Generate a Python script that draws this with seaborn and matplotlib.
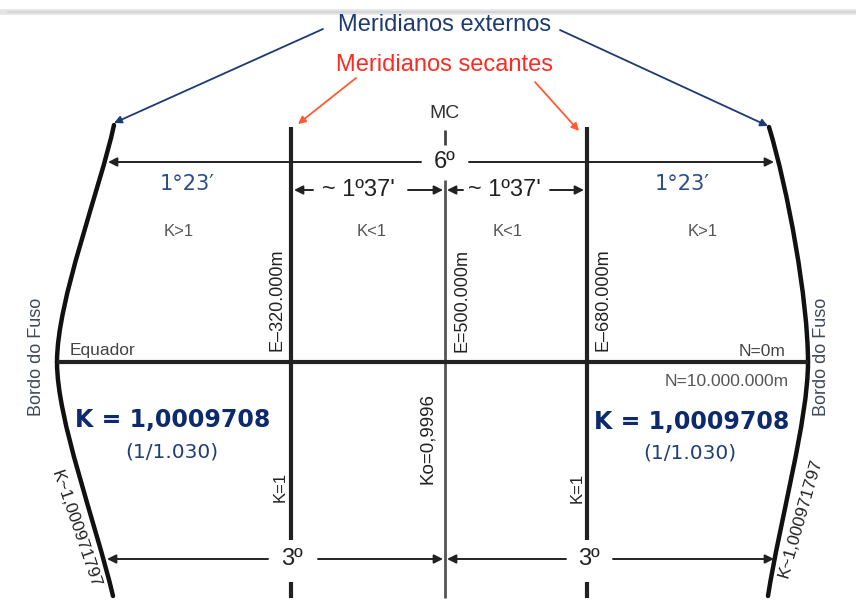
import matplotlib
matplotlib.use("Agg")
import matplotlib.pyplot as plt
from matplotlib.path import Path
from matplotlib.patches import PathPatch
import pandas as pd
import seaborn as sns

# --- texts and values of the UTM zone sketch ---
TITLE_EXT = "Meridianos externos"
TITLE_SEC = "Meridianos secantes"
CENTRAL = "MC"
ZONE_WIDTH = "6º"
HALF_WIDTH = "3º"
SECANT_OFFSET = "~ 1º37'"
OUTER_OFFSET = "1°23′"
ZONE_K = ["K>1", "K<1", "K<1", "K>1"]
EASTINGS = ["E–320.000m", "E=500.000m", "E–680.000m"]
K_SECANT = "K=1"
K_CENTRAL = "Ko=0,9996"
K_EDGE = "K = 1,0009708"
K_EDGE_RATIO = "(1/1.030)"
K_EDGE_EXACT = "K~1,000971797"
NORTHINGS = ["N=0m", "N=10.000.000m"]
EQUATOR = "Equador"
EDGE = "Bordo do Fuso"

# --- layout (pixel space of the sketch) ---
W, H = 856, 614
X_SEC = [291, 587]
X_MC = 445
Y_EQ = 362
Y_TOP, Y_BOT = 127, 598
Y_6, Y_137, Y_3 = 162, 190, 559
ZONE_KX = [179, 372, 508, 703]

NAVY = "#1d3a72"
RED = "#ff2a22"
ORANGE = "#ff5a32"
DARK = "#222222"
GREY = "#444444"

sns.set_theme(style="white")
plt.rcParams['font.family'] = ['Liberation Sans', 'DejaVu Sans']

fig = plt.figure(figsize=(W / 100, H / 100), dpi=100)
ax = fig.add_axes([0, 0, 1, 1])
ax.set_xlim(0, W)
ax.set_ylim(H, 0)
ax.axis('off')

# faint band at the top of the slide
ax.plot([0, W], [12, 12], color="#e4e4e4", lw=4, solid_capstyle='butt')
ax.plot([8, W], [12, 12], color="#d2d2d2", lw=1.2)


def seg(xs, ys, color=DARK, lw=3.0):
    df = pd.DataFrame({"x": xs, "y": ys})
    sns.lineplot(data=df, x="x", y="y", sort=False, estimator=None,
                 color=color, lw=lw, ax=ax, solid_capstyle='butt')


def arrow(start, tip, color=DARK, lw=1.4, ms=13):
    ax.annotate("", xy=tip, xytext=start,
                arrowprops=dict(arrowstyle="-|>", color=color, lw=lw,
                                mutation_scale=ms, shrinkA=0, shrinkB=0))


# secant meridians (broken at the 3º label) and central meridian
for x in X_SEC:
    seg([x, x], [Y_TOP, 540])
    seg([x, x], [582, Y_BOT])
seg([X_MC, X_MC], [130, 145], color=GREY, lw=2)
seg([X_MC, X_MC], [180, Y_BOT], color="#555555", lw=2)

# equator
seg([57, 808], [Y_EQ, Y_EQ])

# zone edges (curved meridians)
edges = [
    [(114, 125), (100, 190), (57, 300), (57, Y_EQ)],
    [(57, Y_EQ), (57, 420), (95, 520), (113, 596)],
    [(769, 127), (788, 190), (808, 300), (808, Y_EQ)],
    [(808, Y_EQ), (808, 420), (780, 520), (768, 596)],
]
for pts in edges:
    p = Path(pts, [Path.MOVETO, Path.CURVE4, Path.CURVE4, Path.CURVE4])
    ax.add_patch(PathPatch(p, fill=False, lw=3.2, edgecolor="#111111",
                           capstyle='round'))

# pointers from the titles
arrow((323, 29), (114, 123), color=NAVY, lw=1.3, ms=11)
arrow((560, 30), (768, 126), color=NAVY, lw=1.3, ms=11)
arrow((356, 78), (298, 124), color=ORANGE, lw=1.3, ms=11)
arrow((535, 82), (579, 131), color=ORANGE, lw=1.3, ms=11)

# dimension lines
arrow((421, Y_6), (108, Y_6))
arrow((469, Y_6), (774, Y_6))
arrow((313, Y_137), (294, Y_137))
arrow((408, Y_137), (443, Y_137))
arrow((463, Y_137), (447, Y_137))
arrow((550, Y_137), (584, Y_137))
arrow((268, Y_3), (107, Y_3))
arrow((318, Y_3), (443, Y_3))
arrow((566, Y_3), (447, Y_3))
arrow((613, Y_3), (774, Y_3))

# titles
ax.text(X_MC, 25, TITLE_EXT, color=NAVY, fontsize=17, ha='center', va='center')
ax.text(X_MC, 65, TITLE_SEC, color=RED, fontsize=17, ha='center', va='center')
ax.text(X_MC, 114, CENTRAL, color="#333333", fontsize=14, ha='center', va='center')

# dimension labels
ax.text(X_MC, Y_6, ZONE_WIDTH, color=DARK, fontsize=17, ha='center', va='center')
ax.text(358, Y_137, SECANT_OFFSET, color=DARK, fontsize=17, ha='center', va='center')
ax.text(504, Y_137, SECANT_OFFSET, color=DARK, fontsize=17, ha='center', va='center')
ax.text(292, Y_3, HALF_WIDTH, color=DARK, fontsize=17, ha='center', va='center')
ax.text(589, Y_3, HALF_WIDTH, color=DARK, fontsize=17, ha='center', va='center')
for x in [187, 682]:
    ax.text(x, 184, OUTER_OFFSET, color="#2b4c8c", fontsize=15, ha='center',
            va='center', family=['DejaVu Sans'])

# scale factor zones
for x, lab in zip(ZONE_KX, ZONE_K):
    ax.text(x, 231, lab, color="#555555", fontsize=12, ha='center', va='center')

# eastings
for x, lab in zip([277, 462, 603], EASTINGS):
    ax.text(x, 300, lab, color=DARK, fontsize=13, rotation=90,
            ha='center', va='center')

ax.text(70, 351, EQUATOR, color=GREY, fontsize=12.5, ha='left', va='center')
ax.text(786, 351, NORTHINGS[0], color=GREY, fontsize=12.5, ha='right', va='center')
ax.text(789, 381, NORTHINGS[1], color="#555555", fontsize=12.5, ha='right', va='center')

for x in [37, 822]:
    ax.text(x, 357, EDGE, color="#3d4a58", fontsize=13, rotation=90,
            ha='center', va='center')

# edge scale factor
for x, y in [(173, 420), (692, 422)]:
    ax.text(x, y, K_EDGE, color="#0c2a6c", fontsize=17, fontweight='bold',
            ha='center', va='center', family=['DejaVu Sans'])
for x, y in [(172, 452), (690, 453)]:
    ax.text(x, y, K_EDGE_RATIO, color="#1f3f7a", fontsize=14.5,
            ha='center', va='center', family=['DejaVu Sans'])

for x, y in [(280, 487), (577, 488)]:
    ax.text(x, y, K_SECANT, color=DARK, fontsize=12, rotation=90,
            ha='center', va='center')
ax.text(428, 439, K_CENTRAL, color=DARK, fontsize=13.5, rotation=90,
        ha='center', va='center')

ax.text(76, 529, K_EDGE_EXACT, color=DARK, fontsize=12.5, rotation=-71,
        ha='center', va='center', rotation_mode='anchor')
ax.text(800, 518, K_EDGE_EXACT, color=DARK, fontsize=12.5, rotation=74,
        ha='center', va='center', rotation_mode='anchor')

fig.savefig("out.png", dpi=100, facecolor="white")
